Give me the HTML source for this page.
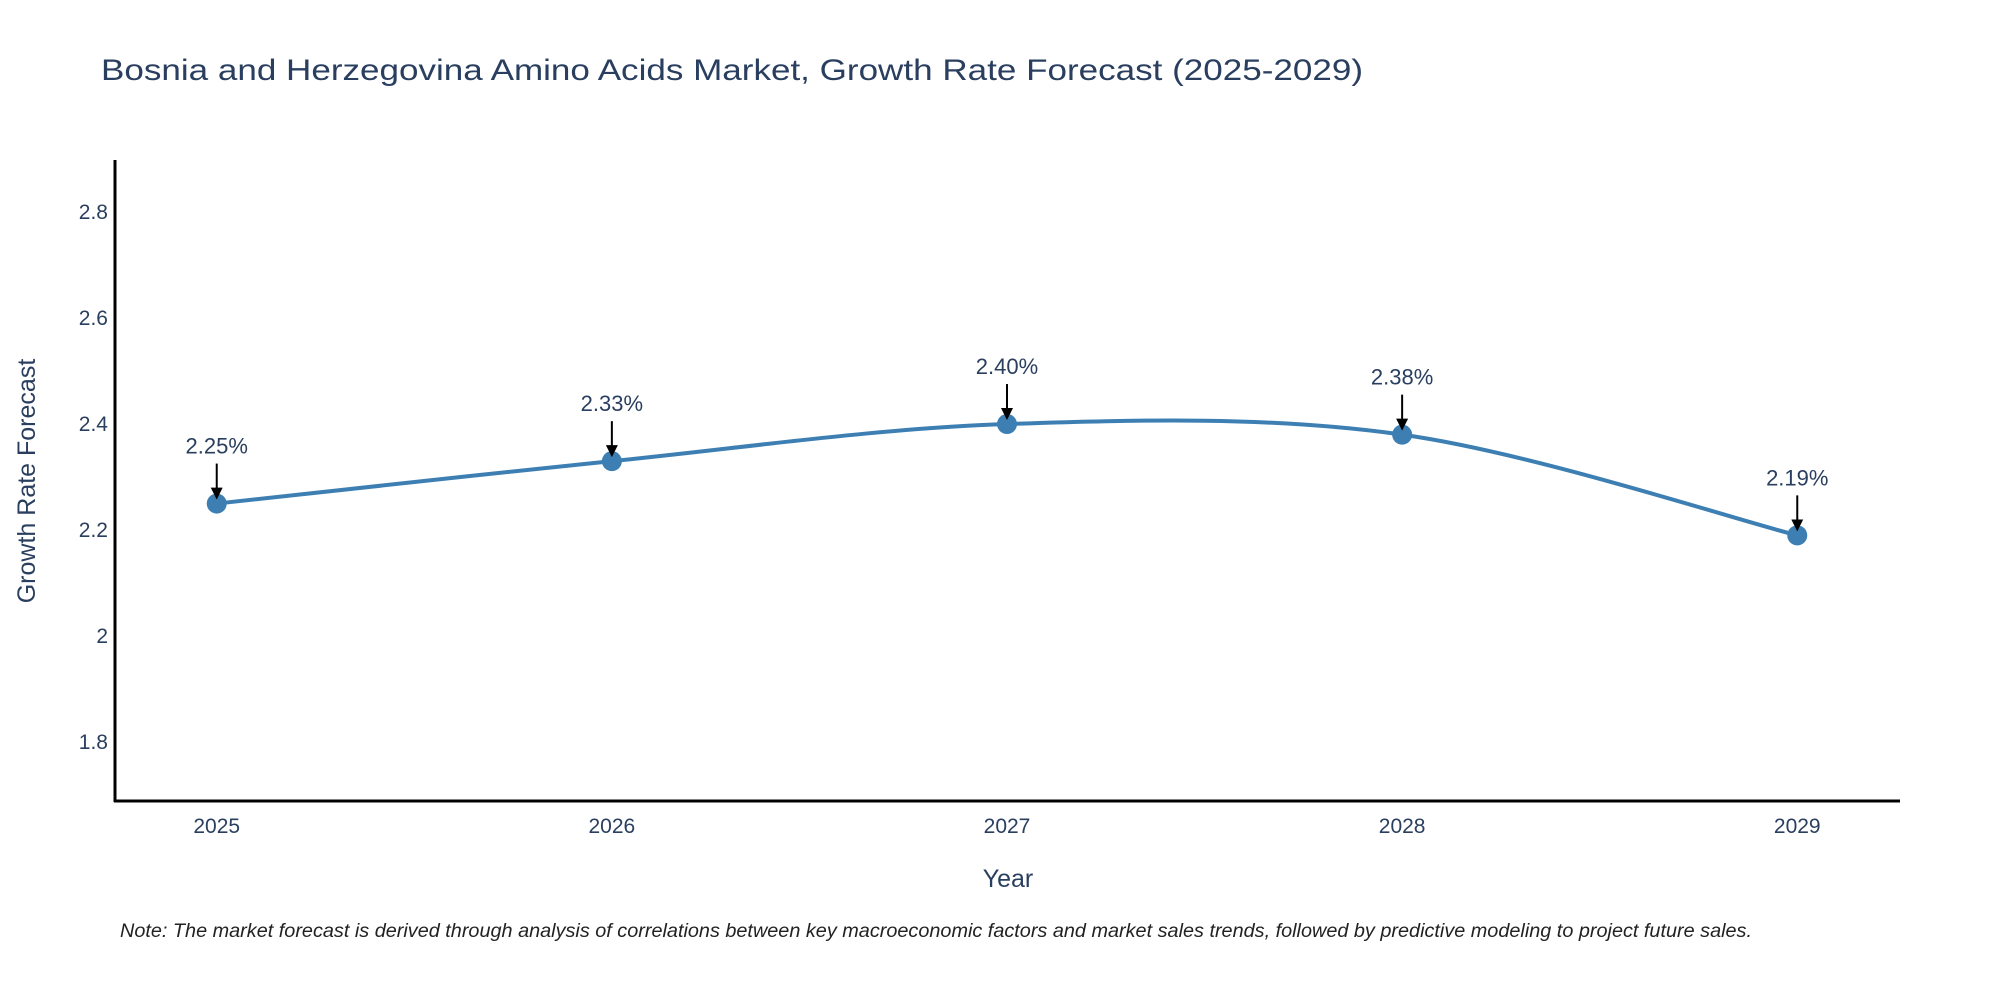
<!DOCTYPE html>
<html><head><meta charset="utf-8"><style>body{margin:0;background:#fff}svg{display:block}text{font-family:"Liberation Sans",sans-serif}</style></head>
<body>
<svg id="chart" width="2000" height="1000" xmlns="http://www.w3.org/2000/svg">
<text x="101" y="80" font-size="30" fill="#2a3f5f" textLength="1262" lengthAdjust="spacingAndGlyphs">Bosnia and Herzegovina Amino Acids Market, Growth Rate Forecast (2025-2029)</text>
<g id="yticks"></g>
<g id="xticks"></g>
<line x1="115" y1="160" x2="115" y2="802" stroke="#000" stroke-width="3"/>
<line x1="114" y1="801" x2="1900" y2="801" stroke="#000" stroke-width="3"/>
<text transform="translate(35,481) rotate(-90)" text-anchor="middle" font-size="25" fill="#2a3f5f">Growth Rate Forecast</text>
<text x="1008" y="887" text-anchor="middle" font-size="25" fill="#2a3f5f">Year</text>
<g id="series"></g>
<text x="120" y="937" font-size="19" font-style="italic" fill="#222" textLength="1632" lengthAdjust="spacingAndGlyphs">Note: The market forecast is derived through analysis of correlations between key macroeconomic factors and market sales trends, followed by predictive modeling to project future sales.</text>
</svg>
<script>
const years = [2025, 2026, 2027, 2028, 2029];
const values = [2.25, 2.33, 2.40, 2.38, 2.19];
const valueLabels = ["2.25%", "2.33%", "2.40%", "2.38%", "2.19%"];
const yTicks = [1.8, 2.0, 2.2, 2.4, 2.6, 2.8];
const yTickLabels = ["1.8", "2", "2.2", "2.4", "2.6", "2.8"];

const NS = "http://www.w3.org/2000/svg";
const xDom = [2024.74, 2029.26], xR = [114, 1900];
const yDom = [1.689, 2.898], yR = [801, 160];
const xs = v => xR[0] + (v - xDom[0]) / (xDom[1] - xDom[0]) * (xR[1] - xR[0]);
const ys = v => yR[0] + (v - yDom[0]) / (yDom[1] - yDom[0]) * (yR[1] - yR[0]);
function mk(tag, attrs, parent) { const e = document.createElementNS(NS, tag); for (const k in attrs) e.setAttribute(k, attrs[k]); parent.appendChild(e); return e; }

const yt = document.getElementById('yticks');
yTicks.forEach((t, i) => {
  const el = mk('text', {x: 108, y: ys(t) + 7, 'text-anchor': 'end', 'font-size': 21, fill: '#2a3f5f'}, yt);
  
  
  el.textContent = yTickLabels[i];
});
const xt = document.getElementById('xticks');
years.forEach(y => {
  const el = mk('text', {x: xs(y), y: 833, 'text-anchor': 'middle', 'font-size': 21, fill: '#2a3f5f'}, xt);
  
  
  el.textContent = String(y);
});

const g = document.getElementById('series');
const P = years.map((y, i) => [xs(y), ys(values[i])]);
let d = `M${P[0][0]},${P[0][1]}`;
for (let i = 0; i < P.length - 1; i++) {
  const p0 = P[i - 1] || P[i], p1 = P[i], p2 = P[i + 1], p3 = P[i + 2] || P[i + 1];
  const c1 = [p1[0] + (p2[0] - p0[0]) / 6, p1[1] + (p2[1] - p0[1]) / 6];
  const c2 = [p2[0] - (p3[0] - p1[0]) / 6, p2[1] - (p3[1] - p1[1]) / 6];
  d += ` C${c1[0]},${c1[1]} ${c2[0]},${c2[1]} ${p2[0]},${p2[1]}`;
}
const line = mk('path', {d: d, fill: 'none', stroke: '#3d7fb2', 'stroke-width': 4}, g);



mk('defs', {}, g).innerHTML = '<marker id="ah" markerWidth="6" markerHeight="6" refX="5" refY="3" orient="auto" markerUnits="strokeWidth"><path d="M0,0 L6,3 L0,6 Z" fill="#000"/></marker>';

P.forEach((p, i) => {
  const c = mk('circle', {cx: p[0], cy: p[1], r: 10, fill: '#3d7fb2'}, g);
  
  
  const a = mk('line', {x1: p[0], y1: p[1] - 40, x2: p[0], y2: p[1] - 6, stroke: '#000', 'stroke-width': 2, 'marker-end': 'url(#ah)'}, g);
  
  
  const t = mk('text', {x: p[0], y: p[1] - 50, 'text-anchor': 'middle', 'font-size': 22, fill: '#2a3f5f'}, g);
  
  
  t.textContent = valueLabels[i];
});
</script>
</body></html>
